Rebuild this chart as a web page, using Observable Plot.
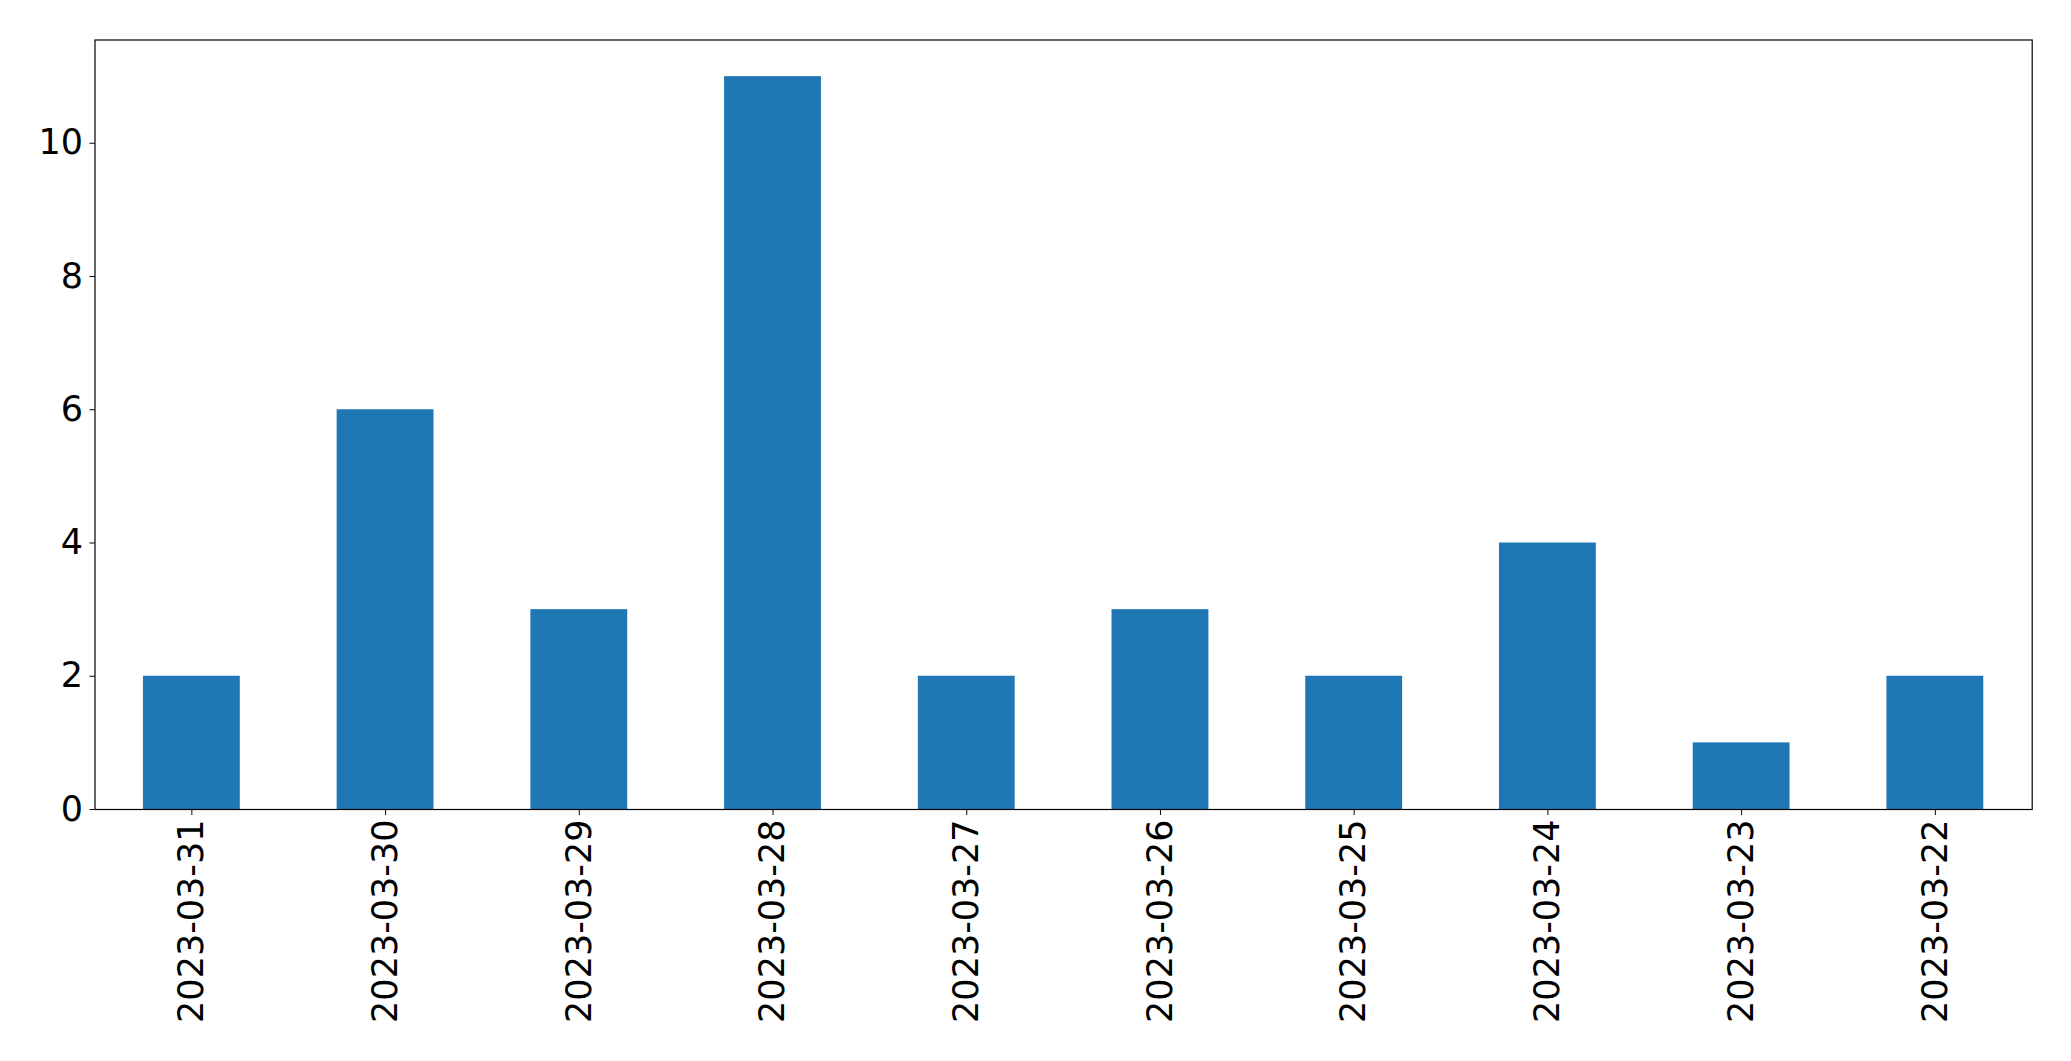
<!DOCTYPE html>
<html>
<head>
<meta charset="utf-8">
<script src="https://cdn.jsdelivr.net/npm/d3@7"></script>
<script src="https://cdn.jsdelivr.net/npm/@observablehq/plot@0.6"></script>
<style>
  html, body { margin: 0; padding: 0; background: #fff; }
  svg { display: block; }
</style>
</head>
<body>
<div id="chart"></div>
<script>
const dates = ["2023-03-31","2023-03-30","2023-03-29","2023-03-28","2023-03-27","2023-03-26","2023-03-25","2023-03-24","2023-03-23","2023-03-22"];
const counts = [2, 6, 3, 11, 2, 3, 2, 4, 1, 2];
const yTicks = [0, 2, 4, 6, 8, 10];

const data = dates.map((d, i) => ({date: d, count: counts[i]}));

const chart = Plot.plot({
  width: 2071,
  height: 1061,
  marginLeft: 94.5,
  marginRight: 39.3,
  marginTop: 39.5,
  marginBottom: 252,
  style: {fontFamily: "DejaVu Sans", fontSize: "35px", color: "black", background: "white"},
  x: {domain: dates, paddingInner: 0.5, paddingOuter: 0.25, align: 0.5, round: false, label: null},
  y: {domain: [0, 11.55], label: null},
  marks: [
    Plot.barY(data, {x: "date", y: "count", fill: "#1f77b4"}),
    Plot.axisY({ticks: yTicks, tickSize: 5, tickPadding: 7, fontSize: 35, label: null, tickFormat: d => String(d)}),
    Plot.axisX({tickRotate: -90, tickSize: 6, tickPadding: 4, fontSize: 35, label: null}),
    Plot.frame({stroke: "black", strokeWidth: 1.2})
  ]
});
document.getElementById("chart").appendChild(chart);
</script>
</body>
</html>
